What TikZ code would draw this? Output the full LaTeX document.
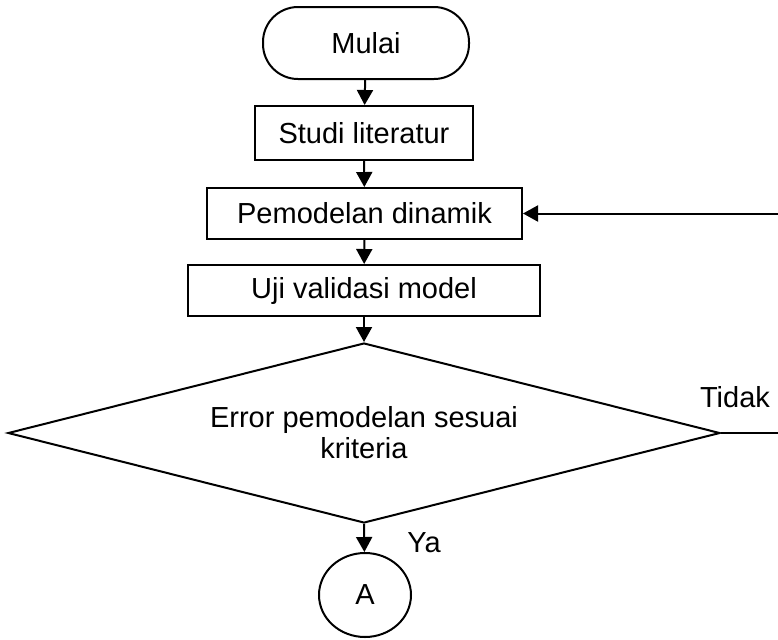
\documentclass[tikz,border=0pt]{standalone}
\usepackage{fontspec}
\setmainfont{Liberation Sans}
\usetikzlibrary{arrows.meta,shapes.geometric}
\begin{document}
\begin{tikzpicture}[x=0.5pt,y=-0.5pt,
  every node/.style={font=\fontsize{14.5pt}{15.5pt}\selectfont, inner sep=0pt},
  box/.style={draw, line width=1pt, minimum width=#1, minimum height=25.5pt},
  arr/.style={line width=1pt, -{Triangle[length=7.5pt,width=8pt]}},
  ln/.style={line width=1pt}]
\useasboundingbox (0,0) rectangle (778,639);
\clip (0,0) rectangle (778,639);
\node[draw, line width=1pt, rounded corners=17.5pt, minimum width=103pt, minimum height=36pt] (mulai) at (366,43) {Mulai};
\node[box=109pt, minimum height=27pt] (studi) at (364,133) {Studi literatur};
\node[box=157.5pt] (pd) at (364.5,213.5) {Pemodelan dinamik};
\node[box=176pt] (uji) at (364,290.5) {Uji validasi model};
\node[draw, line width=1pt, shape=diamond, shape aspect=4, minimum width=356pt, minimum height=90pt, align=center] (dec) at (364,433) {Error pemodelan sesuai\\kriteria};
\node[draw, line width=1pt, shape=ellipse, minimum width=46pt, minimum height=42pt] (a) at (365,595) {A};
\node (tidak) at (735,397) {Tidak};
\node (ya) at (424,543) {Ya};
\coordinate (ret) at (782,433);
\draw[arr] (mulai) -- (studi);
\draw[arr] (studi) -- (pd);
\draw[arr] (pd) -- (uji);
\draw[arr] (uji) -- (dec.north);
\draw[arr] (dec.south) -- (a);
\draw[arr] (dec.east) -- (ret) |- (pd.east);
\end{tikzpicture}
\end{document}
